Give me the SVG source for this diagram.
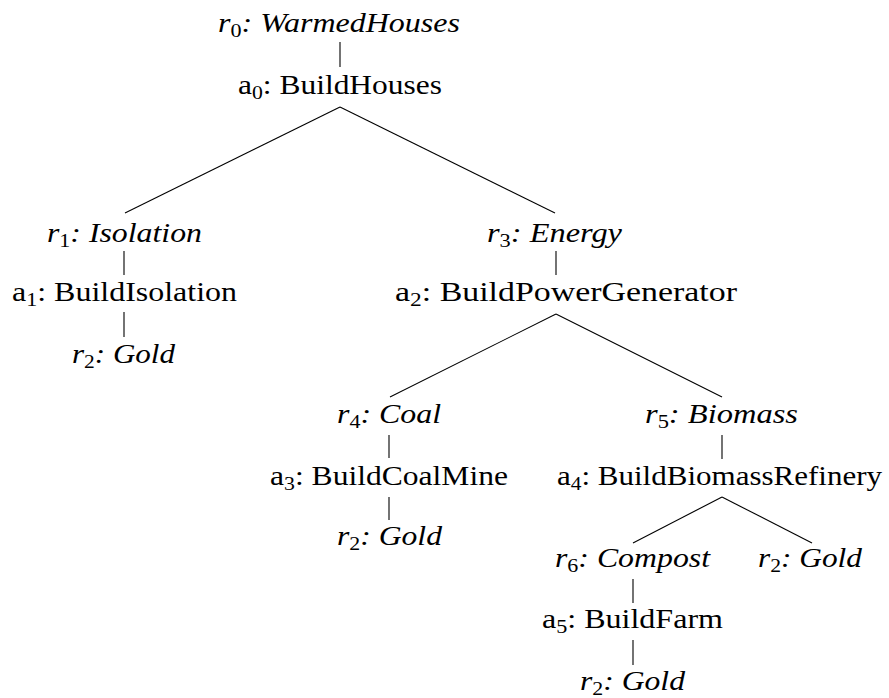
<svg xmlns="http://www.w3.org/2000/svg" width="889" height="698" viewBox="0 0 889 698">
<style>
text{font-family:'Liberation Serif','Times New Roman','DejaVu Serif',serif;font-size:27.5px;fill:#000}
.r{font-style:italic}
.s{font-size:19px;font-style:normal}
.e{stroke:#000;stroke-width:1.1;fill:none}
</style>
<rect width="889" height="698" fill="#fff"/>
<g id="connectors" class="e">
<line x1="340" y1="42" x2="340" y2="67"/>
<line x1="340" y1="107" x2="125" y2="213"/>
<line x1="340" y1="107" x2="555" y2="213"/>
<line x1="124" y1="251" x2="124" y2="275"/>
<line x1="124" y1="312" x2="124" y2="337"/>
<line x1="556" y1="251" x2="556" y2="275"/>
<line x1="556" y1="314" x2="390" y2="397"/>
<line x1="556" y1="314" x2="722" y2="397"/>
<line x1="389" y1="435" x2="389" y2="458"/>
<line x1="389" y1="497" x2="389" y2="520"/>
<line x1="722" y1="435" x2="722" y2="459"/>
<line x1="722" y1="497" x2="633" y2="543"/>
<line x1="722" y1="497" x2="812" y2="543"/>
<line x1="633" y1="579" x2="633" y2="603"/>
<line x1="633" y1="640" x2="633" y2="665"/>
</g>
<g id="r0"><text x="218" y="32" textLength="242" lengthAdjust="spacingAndGlyphs" class="r">r<tspan class="s" dy="5">0</tspan><tspan dy="-5">: WarmedHouses</tspan></text></g>
<g id="a0"><text x="238" y="94" textLength="204" lengthAdjust="spacingAndGlyphs">a<tspan class="s" dy="5">0</tspan><tspan dy="-5">: BuildHouses</tspan></text></g>
<g id="r1"><text x="47" y="242" textLength="155" lengthAdjust="spacingAndGlyphs" class="r">r<tspan class="s" dy="5">1</tspan><tspan dy="-5">: Isolation</tspan></text></g>
<g id="a1"><text x="12" y="301" textLength="225" lengthAdjust="spacingAndGlyphs">a<tspan class="s" dy="5">1</tspan><tspan dy="-5">: BuildIsolation</tspan></text></g>
<g id="r2_a"><text x="72" y="363" textLength="103" lengthAdjust="spacingAndGlyphs" class="r">r<tspan class="s" dy="5">2</tspan><tspan dy="-5">: Gold</tspan></text></g>
<g id="r3"><text x="487" y="242" textLength="135" lengthAdjust="spacingAndGlyphs" class="r">r<tspan class="s" dy="5">3</tspan><tspan dy="-5">: Energy</tspan></text></g>
<g id="a2"><text x="395" y="301" textLength="342" lengthAdjust="spacingAndGlyphs">a<tspan class="s" dy="5">2</tspan><tspan dy="-5">: BuildPowerGenerator</tspan></text></g>
<g id="r4"><text x="337" y="423" textLength="104" lengthAdjust="spacingAndGlyphs" class="r">r<tspan class="s" dy="5">4</tspan><tspan dy="-5">: Coal</tspan></text></g>
<g id="a3"><text x="270" y="485" textLength="238" lengthAdjust="spacingAndGlyphs">a<tspan class="s" dy="5">3</tspan><tspan dy="-5">: BuildCoalMine</tspan></text></g>
<g id="r2_b"><text x="337" y="545" textLength="105" lengthAdjust="spacingAndGlyphs" class="r">r<tspan class="s" dy="5">2</tspan><tspan dy="-5">: Gold</tspan></text></g>
<g id="r5"><text x="645" y="423" textLength="153" lengthAdjust="spacingAndGlyphs" class="r">r<tspan class="s" dy="5">5</tspan><tspan dy="-5">: Biomass</tspan></text></g>
<g id="a4"><text x="557" y="485" textLength="325" lengthAdjust="spacingAndGlyphs">a<tspan class="s" dy="5">4</tspan><tspan dy="-5">: BuildBiomassRefinery</tspan></text></g>
<g id="r6"><text x="555" y="567" textLength="155" lengthAdjust="spacingAndGlyphs" class="r">r<tspan class="s" dy="5">6</tspan><tspan dy="-5">: Compost</tspan></text></g>
<g id="r2_c"><text x="758" y="567" textLength="104" lengthAdjust="spacingAndGlyphs" class="r">r<tspan class="s" dy="5">2</tspan><tspan dy="-5">: Gold</tspan></text></g>
<g id="a5"><text x="542" y="628" textLength="181" lengthAdjust="spacingAndGlyphs">a<tspan class="s" dy="5">5</tspan><tspan dy="-5">: BuildFarm</tspan></text></g>
<g id="r2_d"><text x="580" y="690" textLength="105" lengthAdjust="spacingAndGlyphs" class="r">r<tspan class="s" dy="5">2</tspan><tspan dy="-5">: Gold</tspan></text></g>
</svg>
